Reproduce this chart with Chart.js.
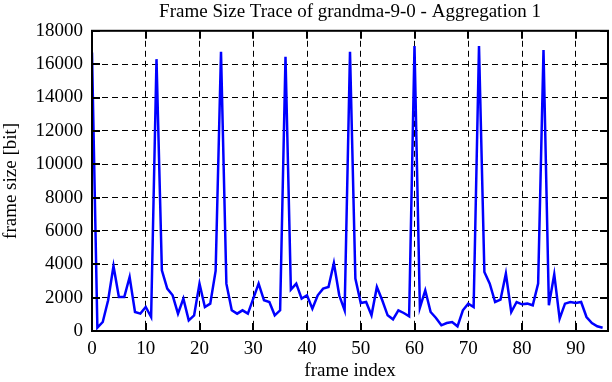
<!DOCTYPE html>
<html>
<head>
<meta charset="utf-8">
<script src="https://cdn.jsdelivr.net/npm/chart.js@4.4.0/dist/chart.umd.min.js"></script>
<style>
  html, body { margin: 0; padding: 0; background: #fff; }
  #wrap { width: 612px; height: 382px; }
</style>
</head>
<body>
<div id="wrap"><canvas id="traceChart" width="612" height="382"></canvas></div>
<script>
// frame sizes, one per frame (frame index 0..95)
const frameSizes = [
    16700, 200, 540, 1840, 3900, 2040, 2040, 3240, 1140, 1040,
    1440, 840, 16300, 3640, 2540, 2140, 1040, 1940, 640, 940,
    2840, 1440, 1640, 3600, 16740, 2840, 1240, 1040, 1240, 1040,
    1940, 2840, 1840, 1740, 940, 1240, 16440, 2480, 2840, 1940,
    2140, 1340, 2140, 2540, 2640, 4080, 2140, 1240, 16740, 3140,
    1680, 1740, 940, 2640, 1840, 940, 700, 1240, 1080, 880,
    17080, 1400, 2440, 1140, 780, 340, 480, 540, 280, 1240,
    1640, 1440, 17080, 3540, 2840, 1740, 1880, 3440, 1140, 1740,
    1600, 1640, 1540, 2840, 16840, 1540, 3400, 740, 1640, 1740,
    1680, 1740, 840, 480, 280, 200
];
const xTicks = [0, 10, 20, 30, 40, 50, 60, 70, 80, 90];
const yTicks = [0, 2000, 4000, 6000, 8000, 10000, 12000, 14000, 16000, 18000];

const serif = "'Liberation Serif', 'DejaVu Serif', serif";
const fontSize = 19;

// gnuplot style frame with inward ticks on all four sides
const framePlugin = {
    id: "frame",
    afterDraw(chart) {
        const { ctx, chartArea: a, scales } = chart;
        const len = 8;
        ctx.save();
        ctx.strokeStyle = "#000";
        ctx.lineWidth = 2;
        ctx.beginPath();
        xTicks.forEach(v => {
            const px = Math.round(scales.x.getPixelForValue(v));
            ctx.moveTo(px, a.bottom); ctx.lineTo(px, a.bottom - len);
            ctx.moveTo(px, a.top); ctx.lineTo(px, a.top + len);
        });
        yTicks.forEach(v => {
            const py = Math.round(scales.y.getPixelForValue(v));
            ctx.moveTo(a.left, py); ctx.lineTo(a.left + len, py);
            ctx.moveTo(a.right, py); ctx.lineTo(a.right - len, py);
        });
        ctx.stroke();
        ctx.strokeRect(a.left, a.top, a.right - a.left, a.bottom - a.top);
        ctx.restore();
    }
};

new Chart(document.getElementById("traceChart"), {
    type: "line",
    data: {
        datasets: [{
            label: "frame size",
            data: frameSizes.map((v, i) => ({ x: i, y: v })),
            borderColor: "#0000ff",
            borderWidth: 2.5,
            pointRadius: 0,
            tension: 0,
            fill: false
        }]
    },
    options: {
        responsive: false,
        animation: false,
        layout: { padding: { left: 0, right: 4, top: 0, bottom: 0 } },
        plugins: {
            legend: { display: false },
            tooltip: { enabled: false },
            title: {
                display: true,
                text: "Frame Size Trace of grandma-9-0 - Aggregation 1",
                color: "#000",
                fullSize: false,
                font: { family: serif, size: fontSize, weight: "normal" },
                padding: { top: 1, bottom: 7 }
            }
        },
        scales: {
            x: {
                type: "linear",
                min: 0,
                max: 96,
                afterFit: s => { s.height = 51; },
                afterBuildTicks: s => { s.ticks = xTicks.map(v => ({ value: v })); },
                ticks: {
                    color: "#000",
                    padding: 7,
                    maxRotation: 0,
                    callback: v => String(v),
                    font: { family: serif, size: fontSize }
                },
                grid: { color: "#000", lineWidth: 1, drawTicks: false },
                border: { display: false, dash: [6, 4] },
                title: {
                    display: true,
                    text: "frame index",
                    color: "#000",
                    padding: 0,
                    font: { family: serif, size: fontSize }
                }
            },
            y: {
                min: 0,
                max: 18000,
                afterFit: s => { s.width = 92; },
                afterBuildTicks: s => { s.ticks = yTicks.map(v => ({ value: v })); },
                ticks: {
                    color: "#000",
                    padding: 9,
                    callback: v => String(v),
                    font: { family: serif, size: fontSize }
                },
                grid: { color: "#000", lineWidth: 1, drawTicks: false },
                border: { display: false, dash: [6, 4] },
                title: {
                    display: true,
                    text: "frame size [bit]",
                    color: "#000",
                    padding: 0,
                    font: { family: serif, size: fontSize }
                }
            }
        }
    },
    plugins: [framePlugin]
});
</script>
</body>
</html>
